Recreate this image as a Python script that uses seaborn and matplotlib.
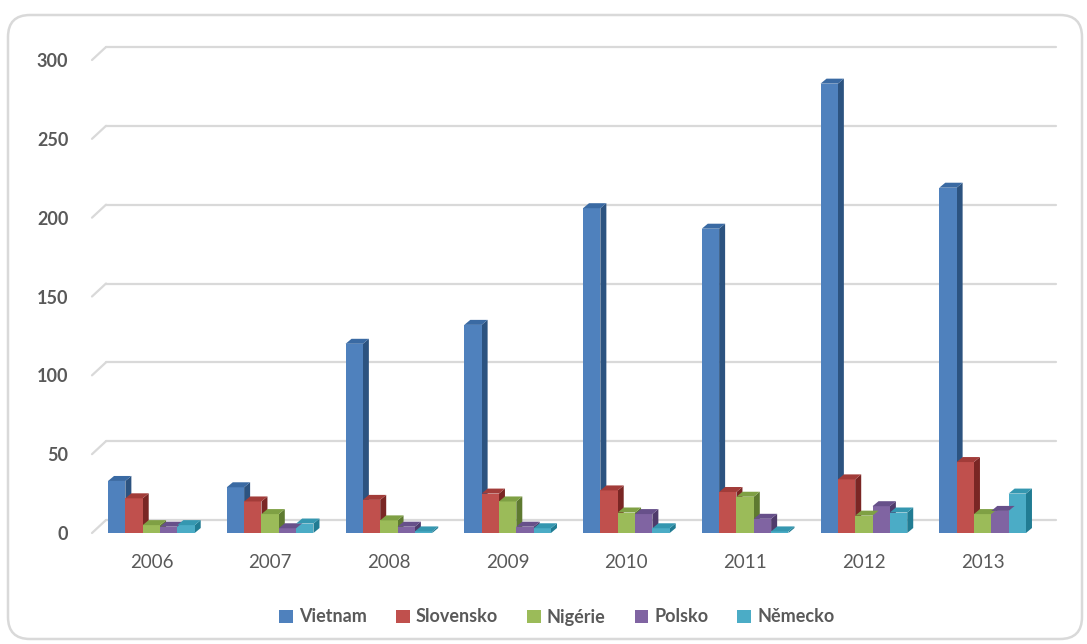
import matplotlib
matplotlib.use("Agg")
import matplotlib.pyplot as plt
import seaborn as sns
import pandas as pd
import numpy as np
from matplotlib.patches import Polygon, FancyBboxPatch, Patch

# ---- data ----
years = ["2006", "2007", "2008", "2009", "2010", "2011", "2012", "2013"]
countries = ["Vietnam", "Slovensko", "Nigérie", "Polsko", "Německo"]
vietnam = [33, 29, 120, 132, 206, 193, 285, 219]
slovensko = [22, 20, 21, 25, 27, 26, 34, 45]
nigerie = [5, 12, 8, 20, 13, 23, 11, 12]
polsko = [4, 3, 4, 4, 12, 9, 17, 14]
nemecko = [5, 6, 1, 3, 3, 1, 13, 25]
yticks = [0, 50, 100, 150, 200, 250, 300]

colors = ["#4F81BD", "#C0504D", "#9BBB59", "#8064A2", "#4BACC6"]
side_colors = ["#2C5380", "#7A2624", "#5E7A30", "#4F3B6B", "#217C93"]
top_colors = ["#3A6AA3", "#A23C39", "#7FA044", "#67508A", "#3597B0"]

series = [vietnam, slovensko, nigerie, polsko, nemecko]
df = pd.DataFrame({
    "year": np.tile(years, len(countries)),
    "country": np.repeat(countries, len(years)),
    "value": np.concatenate(series),
})

sns.set_theme(style="white")
plt.rcParams["font.family"] = ["Lato", "DejaVu Sans"]

W, H = 1087, 644
fig = plt.figure(figsize=(W / 100, H / 100), dpi=100)
fig.patch.set_facecolor("white")

# rounded frame
frame = FancyBboxPatch((0.08, 0.05), 10.74, 6.24,
                       boxstyle="round,pad=0,rounding_size=0.22",
                       transform=fig.dpi_scale_trans, facecolor="none",
                       edgecolor="#D9D9D9", linewidth=1.8, zorder=0)
fig.patches.append(frame)

# front plane of the plot area in pixels
x0p, x1p = 92, 1042
y0p, y1p = 533, 60
ax = fig.add_axes([x0p / W, 1 - y0p / H, (x1p - x0p) / W, (y0p - y1p) / H])
ax.set_facecolor("none")
ax.set_zorder(2)

sns.barplot(data=df, x="year", y="value", hue="country", hue_order=countries,
            order=years, palette=colors, saturation=1, width=0.73,
            ax=ax, legend=False, zorder=3, edgecolor="none", linewidth=0)

ax.set_xlim(-0.5, len(years) - 0.5)
ax.set_ylim(0, 300)

px_x = (len(years)) / (x1p - x0p)   # data units per pixel (x)
px_y = 300 / (y0p - y1p)            # data units per pixel (y)

# back-wall gridlines with 3D slant
gx, gy = 14 * px_x, 13 * px_y
for v in yticks:
    ax.plot([-0.5 + gx, len(years) - 0.5 + gx], [v + gy, v + gy],
            color="#D9D9D9", lw=1.6, clip_on=False, zorder=1)
    ax.plot([-0.5, -0.5 + gx], [v, v + gy], color="#D9D9D9", lw=1.6,
            clip_on=False, zorder=1)

# 3D faces for bars
dx, dy = 6 * px_x, 5 * px_y
for ci, cont in enumerate(ax.containers):
    for bar in cont:
        bx, by = bar.get_x(), bar.get_y()
        bw, bh = bar.get_width(), bar.get_height()
        top = by + bh
        side = Polygon([(bx + bw, by), (bx + bw, top), (bx + bw + dx, top + dy),
                        (bx + bw + dx, by + dy)], closed=True,
                       facecolor=side_colors[ci], edgecolor="none",
                       zorder=2.9, clip_on=False)
        topf = Polygon([(bx, top), (bx + bw, top), (bx + bw + dx, top + dy),
                        (bx + dx, top + dy)], closed=True,
                       facecolor=top_colors[ci], edgecolor="none",
                       zorder=3.1, clip_on=False)
        ax.add_patch(side)
        ax.add_patch(topf)

for s in ax.spines.values():
    s.set_visible(False)

ax.set_yticks(yticks)
ax.set_yticklabels([str(v) for v in yticks], fontweight="bold",
                   color="#595959", fontsize=13)
ax.tick_params(axis="y", length=0, pad=17)
ax.set_xticks(range(len(years)))
ax.set_xticklabels(years, color="#595959", fontsize=13.5)
ax.tick_params(axis="x", length=0, pad=15)
ax.set_xlabel("")
ax.set_ylabel("")
ax.grid(False)

handles = [Patch(facecolor=c, edgecolor="none", label=n)
           for c, n in zip(colors, countries)]
leg = fig.legend(handles=handles, loc="center", ncol=5,
                 bbox_to_anchor=(557 / W, 1 - 617 / H), frameon=False,
                 handlelength=0.75, handleheight=0.75, handletextpad=0.35,
                 columnspacing=1.6, prop={"weight": "bold", "size": 13})
for t in leg.get_texts():
    t.set_color("#595959")

fig.savefig("out.png", dpi=100, facecolor="white")
